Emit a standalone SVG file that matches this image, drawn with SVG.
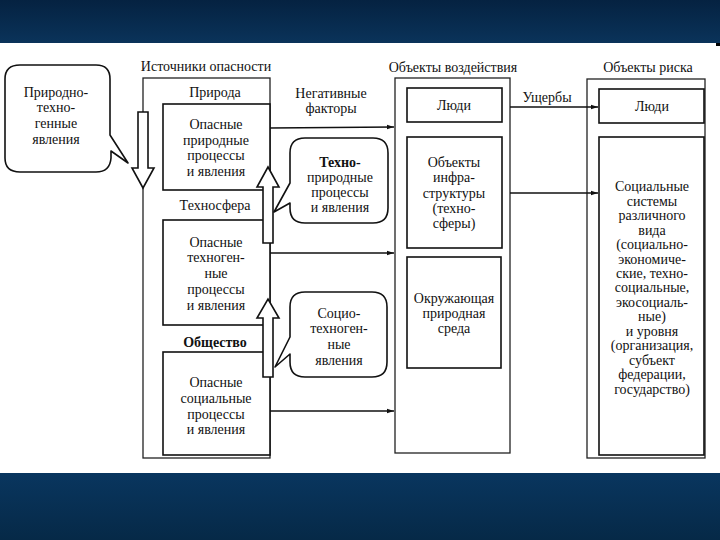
<svg xmlns="http://www.w3.org/2000/svg" width="720" height="540" viewBox="0 0 720 540">
<defs>
<linearGradient id="topband" x1="0" y1="0" x2="0" y2="1">
<stop offset="0" stop-color="#052241"/>
<stop offset="1" stop-color="#0a335a"/>
</linearGradient>
<linearGradient id="botband" x1="0" y1="0" x2="0" y2="1">
<stop offset="0" stop-color="#09365f"/>
<stop offset="1" stop-color="#062947"/>
</linearGradient>
<marker id="ah" markerWidth="8" markerHeight="6" refX="7" refY="3" orient="auto" markerUnits="userSpaceOnUse">
<path d="M0,0.8 L7,3 L0,5.2 Z" fill="#111"/>
</marker>
<style>
.t{font-family:"Liberation Serif","Times New Roman",serif;font-size:14px;fill:#111;text-anchor:middle}
.b{font-weight:bold}
.box{fill:#fff;stroke:#111;stroke-width:1.6}
.outer{fill:none;stroke:#222;stroke-width:1.3}
.harrow{fill:#fff;stroke:#111;stroke-width:1.6;stroke-linejoin:miter}
.call{fill:#fff;stroke:#111;stroke-width:1.6;stroke-linejoin:round}
.con{fill:none;stroke:#111;stroke-width:1.5}
</style>
</defs>
<rect x="0" y="0" width="720" height="540" fill="#fff"/>
<rect x="0" y="0" width="720" height="43" fill="url(#topband)"/>
<rect x="716" y="43" width="4" height="3" fill="#000"/>
<rect x="0" y="473" width="720" height="67" fill="url(#botband)"/>

<g id="sources">
<text class="t" x="206" y="71">Источники опасности</text>
<rect class="outer" x="143" y="78" width="127" height="380"/>
<text class="t" x="215" y="97">Природа</text>
<text class="t" x="215" y="210">Техносфера</text>
<text class="t b" x="215" y="347">Общество</text>
</g>

<g id="nature-hazards">
<rect class="box" x="163" y="104" width="107" height="86"/>
<text class="t"><tspan x="216" y="129">Опасные</tspan><tspan x="216" y="145">природные</tspan><tspan x="216" y="160">процессы</tspan><tspan x="216" y="176">и явления</tspan></text>
</g>

<g id="techno-hazards">
<rect class="box" x="163" y="220" width="107" height="105"/>
<text class="t"><tspan x="216" y="247">Опасные</tspan><tspan x="216" y="262">техноген-</tspan><tspan x="216" y="278">ные</tspan><tspan x="216" y="294">процессы</tspan><tspan x="216" y="310">и явления</tspan></text>
</g>

<g id="social-hazards">
<rect class="box" x="163" y="352" width="107" height="103"/>
<text class="t"><tspan x="216" y="387">Опасные</tspan><tspan x="216" y="403">социальные</tspan><tspan x="216" y="419">процессы</tspan><tspan x="216" y="434">и явления</tspan></text>
</g>

<g id="callout-natural-techno">
<path class="call" d="M20,65 H96 Q110,65 110,79 V135 L128,163 L111,151 V158 Q110,172 96,172 H20 Q5,172 5,158 V79 Q5,65 20,65 Z"/>
<text class="t"><tspan x="56" y="97">Природно-</tspan><tspan x="56" y="112">техно-</tspan><tspan x="56" y="128">генные</tspan><tspan x="56" y="144">явления</tspan></text>
</g>

<g id="callout-techno-natural">
<path class="call" d="M305,138 H373 Q388,138 388,153 V208 Q388,223 373,223 H305 Q290,223 290,208 V203 L274,212 L290,183 V153 Q290,138 305,138 Z"/>
<text class="t"><tspan class="b" x="340" y="167">Техно-</tspan><tspan x="340" y="182">природные</tspan><tspan x="340" y="197">процессы</tspan><tspan x="340" y="212">и явления</tspan></text>
</g>

<g id="callout-socio-techno">
<path class="call" d="M305,292 H372 Q387,292 387,307 V362 Q387,377 372,377 H305 Q290,377 290,362 V354 L275,367 L290,337 V307 Q290,292 305,292 Z"/>
<text class="t"><tspan x="339" y="318">Социо-</tspan><tspan x="339" y="333">техноген-</tspan><tspan x="339" y="349">ные</tspan><tspan x="339" y="365">явления</tspan></text>
</g>

<g id="impact-objects">
<text class="t" x="453" y="72">Объекты воздействия</text>
<rect class="outer" x="395" y="78" width="115" height="375"/>
</g>
<g id="impact-people">
<rect class="box" x="407" y="88" width="95" height="34"/>
<text class="t" x="454" y="110">Люди</text>
</g>
<g id="impact-infrastructure">
<rect class="box" x="407" y="137" width="95" height="111"/>
<text class="t"><tspan x="454" y="167">Объекты</tspan><tspan x="454" y="182">инфра-</tspan><tspan x="454" y="198">структуры</tspan><tspan x="454" y="213">(техно-</tspan><tspan x="454" y="228">сферы)</tspan></text>
</g>
<g id="impact-environment">
<rect class="box" x="407" y="257" width="94" height="111"/>
<text class="t"><tspan x="454" y="303">Окружающая</tspan><tspan x="454" y="318">природная</tspan><tspan x="454" y="333">среда</tspan></text>
</g>

<g id="risk-objects">
<text class="t" x="648" y="72">Объекты риска</text>
<rect class="outer" x="587" y="79" width="118" height="379"/>
</g>
<g id="risk-people">
<rect class="box" x="599" y="89" width="105" height="34"/>
<text class="t" x="652" y="111">Люди</text>
</g>
<g id="risk-social">
<rect class="box" x="599" y="137" width="105" height="318"/>
<text class="t"><tspan x="652" y="191">Социальные</tspan><tspan x="652" y="206">системы</tspan><tspan x="652" y="220">различного</tspan><tspan x="652" y="235">вида</tspan><tspan x="652" y="249">(социально-</tspan><tspan x="652" y="264">экономиче-</tspan><tspan x="652" y="278">ские, техно-</tspan><tspan x="652" y="292">социальные,</tspan><tspan x="652" y="307">экосоциаль-</tspan><tspan x="652" y="321">ные)</tspan><tspan x="652" y="336">и уровня</tspan><tspan x="652" y="350">(организация,</tspan><tspan x="652" y="365">субъект</tspan><tspan x="652" y="379">федерации,</tspan><tspan x="652" y="394">государство)</tspan></text>
</g>

<g id="connectors">
<path class="harrow" d="M138,112 H148 V168 H154 L143,188 L132,168 H138 Z"/>
<path class="harrow" d="M263,243 H273 V187 H279 L268,167 L257,187 H263 Z"/>
<path class="harrow" d="M263,377 H273 V318 H279 L268,299 L257,318 H263 Z"/>
<line class="con" x1="270" y1="128" x2="394" y2="127" marker-end="url(#ah)"/>
<line class="con" x1="270" y1="253" x2="394" y2="253" marker-end="url(#ah)"/>
<line class="con" x1="270" y1="411" x2="394" y2="411" marker-end="url(#ah)"/>
<line class="con" x1="510" y1="107" x2="598" y2="107" marker-end="url(#ah)"/>
<line class="con" x1="510" y1="193" x2="598" y2="193" marker-end="url(#ah)"/>
<text class="t"><tspan x="331" y="98">Негативные</tspan><tspan x="331" y="113">факторы</tspan></text>
<text class="t" x="547" y="102">Ущербы</text>
</g>
</svg>
